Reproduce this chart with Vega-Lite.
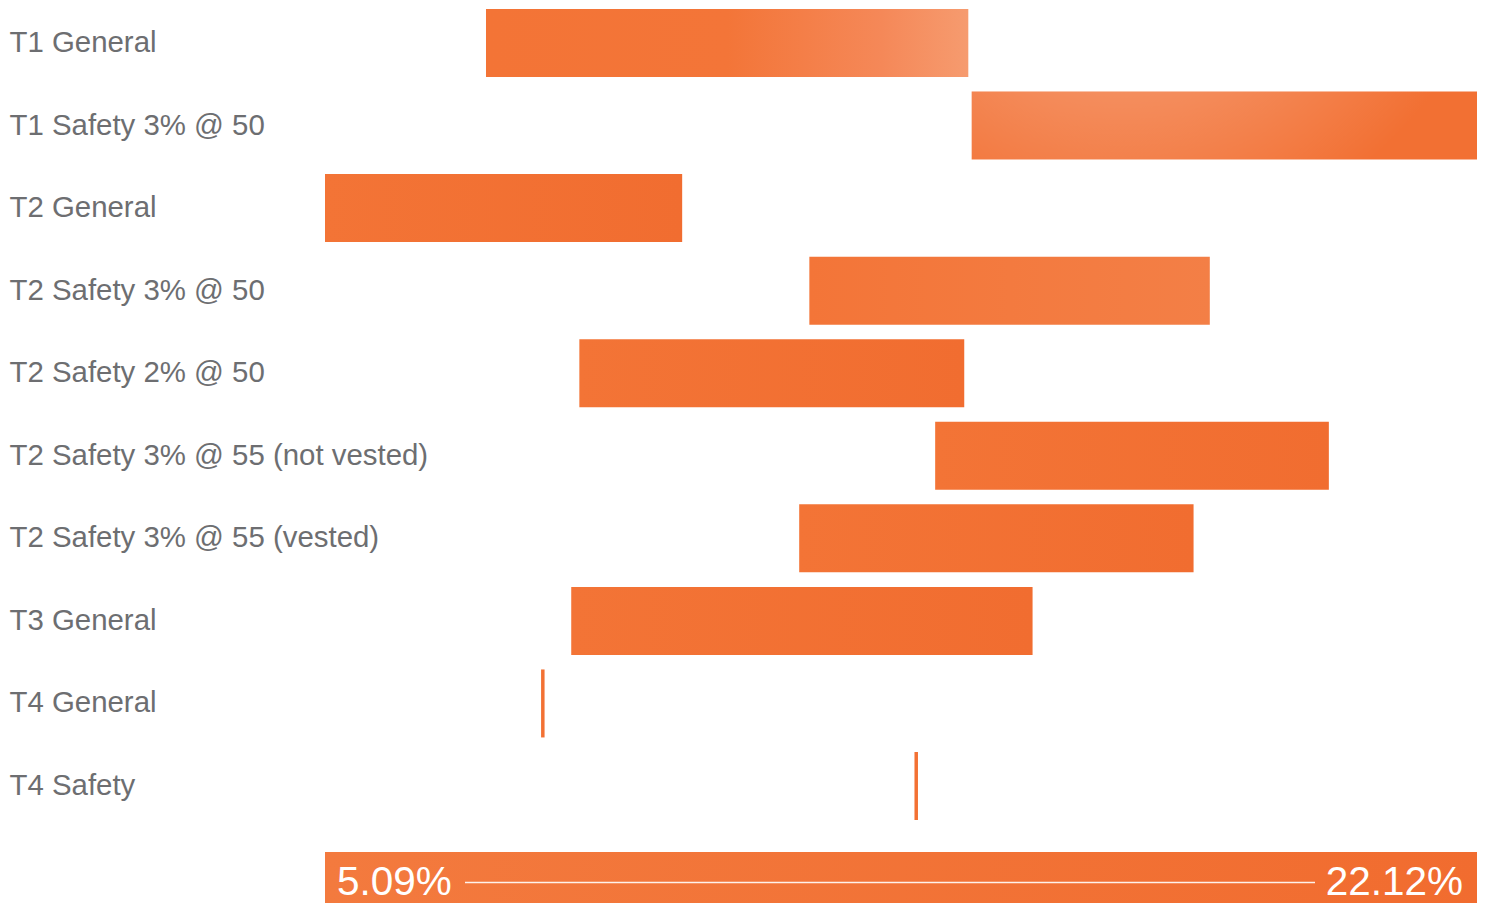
{
  "$schema": "https://vega.github.io/schema/vega-lite/v6.json",
  "padding": 0,
  "background": "white",
  "spacing": 23,
  "config": {"view": {"stroke": null}, "font": "Liberation Sans"},
  "datasets": {
    "rates": [
      {"plan": "T1 General", "lo": 0.0747, "hi": 0.1460},
      {"plan": "T1 Safety 3% @ 50", "lo": 0.1465, "hi": 0.2212},
      {"plan": "T2 General", "lo": 0.0509, "hi": 0.1037},
      {"plan": "T2 Safety 3% @ 50", "lo": 0.1225, "hi": 0.1817},
      {"plan": "T2 Safety 2% @ 50", "lo": 0.0885, "hi": 0.1454},
      {"plan": "T2 Safety 3% @ 55 (not vested)", "lo": 0.1411, "hi": 0.1993},
      {"plan": "T2 Safety 3% @ 55 (vested)", "lo": 0.1210, "hi": 0.1793},
      {"plan": "T3 General", "lo": 0.0873, "hi": 0.1555},
      {"plan": "T4 General", "lo": 0.0831, "hi": 0.0831},
      {"plan": "T4 Safety", "lo": 0.1383, "hi": 0.1383}
    ]
  },
  "vconcat": [
    {
      "width": 1488,
      "height": 829,
      "data": {"name": "rates"},
      "encoding": {
        "y": {
          "field": "plan",
          "type": "nominal",
          "sort": null,
          "scale": {
            "domain": ["T1 General", "T1 Safety 3% @ 50", "T2 General", "T2 Safety 3% @ 50", "T2 Safety 2% @ 50", "T2 Safety 3% @ 55 (not vested)", "T2 Safety 3% @ 55 (vested)", "T3 General", "T4 General", "T4 Safety"],
            "paddingInner": 0.1764,
            "paddingOuter": 0.109
          },
          "axis": {
            "title": null,
            "domain": false,
            "ticks": false,
            "tickSize": 0,
            "labelAlign": "left",
            "labelBaseline": "middle",
            "labelPadding": -9,
            "labelFont": "Liberation Sans",
            "labelFontSize": 29.4,
            "labelColor": "#6D6E71",
            "labelLimit": 700
          }
        }
      },
      "layer": [
        {
          "transform": [{"filter": "datum.lo < datum.hi && datum.plan != 'T1 General' && datum.plan != 'T1 Safety 3% @ 50' && datum.plan != 'T2 Safety 3% @ 50'"}],
          "mark": {
            "type": "bar",
            "color": {"gradient": "linear", "x1": 0, "y1": 0, "x2": 1, "y2": 0,
              "stops": [{"offset": 0, "color": "#F37436"}, {"offset": 1, "color": "#F16D30"}]}
          },
          "encoding": {
            "x": {"field": "lo", "type": "quantitative", "scale": {"domain": [0.0028552, 0.222826], "nice": false, "zero": false}, "axis": null},
            "x2": {"field": "hi"}
          }
        },
        {
          "transform": [{"filter": "datum.plan == 'T1 General'"}],
          "mark": {
            "type": "bar",
            "color": {"gradient": "linear", "x1": 0, "y1": 0, "x2": 1, "y2": 0,
              "stops": [{"offset": 0, "color": "#F37436"}, {"offset": 0.5, "color": "#F37538"}, {"offset": 0.82, "color": "#F58858"}, {"offset": 1, "color": "#F69B6F"}]}
          },
          "encoding": {
            "x": {"field": "lo", "type": "quantitative", "scale": {"domain": [0.0028552, 0.222826], "nice": false, "zero": false}, "axis": null},
            "x2": {"field": "hi"}
          }
        },
        {
          "transform": [{"filter": "datum.plan == 'T1 Safety 3% @ 50'"}],
          "mark": {
            "type": "bar",
            "color": {"gradient": "radial", "x1": 0.3, "y1": 0.0, "r1": 0, "x2": 0.3, "y2": 0.0, "r2": 0.75,
              "stops": [{"offset": 0, "color": "#F7AD88"}, {"offset": 0.4, "color": "#F59A70"}, {"offset": 1, "color": "#F27033"}]}
          },
          "encoding": {
            "x": {"field": "lo", "type": "quantitative", "scale": {"domain": [0.0028552, 0.222826], "nice": false, "zero": false}, "axis": null},
            "x2": {"field": "hi"}
          }
        },
        {
          "transform": [{"filter": "datum.plan == 'T2 Safety 3% @ 50'"}],
          "mark": {
            "type": "bar",
            "color": {"gradient": "linear", "x1": 0, "y1": 0, "x2": 1, "y2": 0,
              "stops": [{"offset": 0, "color": "#F37538"}, {"offset": 1, "color": "#F37F46"}]}
          },
          "encoding": {
            "x": {"field": "lo", "type": "quantitative", "scale": {"domain": [0.0028552, 0.222826], "nice": false, "zero": false}, "axis": null},
            "x2": {"field": "hi"}
          }
        },
        {
          "transform": [{"filter": "datum.lo == datum.hi"}],
          "mark": {"type": "tick", "thickness": 3.5, "size": 68, "color": "#F37133", "opacity": 1},
          "encoding": {
            "x": {"field": "lo", "type": "quantitative", "scale": {"domain": [0.0028552, 0.222826], "nice": false, "zero": false}, "axis": null}
          }
        }
      ]
    },
    {
      "width": 1488,
      "height": 51,
      "data": {"name": "rates"},
      "transform": [{"aggregate": [{"op": "min", "field": "lo", "as": "lo"}, {"op": "max", "field": "hi", "as": "hi"}]}],
      "layer": [
        {
          "mark": {
            "type": "rect",
            "color": {"gradient": "linear", "x1": 0, "y1": 0, "x2": 1, "y2": 0,
              "stops": [{"offset": 0, "color": "#F37A3E"}, {"offset": 1, "color": "#F16C2F"}]}
          },
          "encoding": {
            "x": {"field": "lo", "type": "quantitative", "scale": {"domain": [0.0028552, 0.222826], "nice": false, "zero": false}, "axis": null},
            "x2": {"field": "hi"}
          }
        },
        {
          "mark": {"type": "rule", "color": "#FFFFFF", "strokeWidth": 1.4, "opacity": 0.9, "xOffset": 140, "x2Offset": -162, "yOffset": 5},
          "encoding": {
            "x": {"field": "lo", "type": "quantitative", "scale": {"domain": [0.0028552, 0.222826], "nice": false, "zero": false}, "axis": null},
            "x2": {"field": "hi"}
          }
        },
        {
          "mark": {"type": "text", "align": "left", "baseline": "alphabetic", "dx": 12, "dy": 17.5, "font": "Liberation Sans", "fontSize": 40.5, "color": "#FFFFFF"},
          "encoding": {
            "x": {"field": "lo", "type": "quantitative", "scale": {"domain": [0.0028552, 0.222826], "nice": false, "zero": false}, "axis": null},
            "text": {"field": "lo", "type": "quantitative", "format": ".2%"}
          }
        },
        {
          "mark": {"type": "text", "align": "right", "baseline": "alphabetic", "dx": -14, "dy": 17.5, "font": "Liberation Sans", "fontSize": 40.5, "color": "#FFFFFF"},
          "encoding": {
            "x": {"field": "hi", "type": "quantitative", "scale": {"domain": [0.0028552, 0.222826], "nice": false, "zero": false}, "axis": null},
            "text": {"field": "hi", "type": "quantitative", "format": ".2%"}
          }
        }
      ]
    }
  ]
}
